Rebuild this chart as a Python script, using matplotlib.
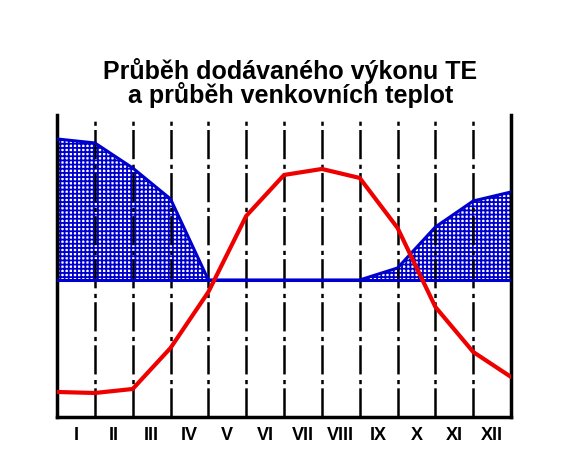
import numpy as np
import matplotlib
matplotlib.use("Agg")
import matplotlib.pyplot as plt

plt.rcParams['font.family'] = ['Liberation Sans', 'DejaVu Sans']
plt.rcParams['hatch.linewidth'] = 1.3
plt.rcParams['lines.scale_dashes'] = False

# month boundaries 0..12
months = ["I", "II", "III", "IV", "V", "VI", "VII", "VIII", "IX", "X", "XI", "XII"]
bounds = np.arange(13)
# supplied heat output (above zero line)
power = [14.1, 13.7, 11.2, 8.1, 0.0, 0.0, 0.0, 0.0, 0.0, 1.2, 5.3, 7.9, 8.8]
# outdoor temperature
temp = [-11.2, -11.3, -10.9, -6.8, -1.2, 6.4, 10.5, 11.1, 10.2, 5.2, -2.7, -7.2, -9.7]

fig = plt.figure(figsize=(5.69, 4.69), dpi=100)
ax = fig.add_axes([0.1002, 0.1109, 0.798, 0.644])

ax.fill_between(bounds, 0, power, facecolor='white', edgecolor='#0000cc',
                hatch='++++', linewidth=0, zorder=1)
ax.plot(bounds, power, color='#0000cc', lw=2.2, zorder=3)
ax.plot([0, 12], [0, 0], color='#0000cc', lw=2.2, zorder=3)

for b in bounds[1:-1]:
    ax.plot([b, b], [-13.7, 16.2], color='black', lw=1.8,
            linestyle=(0, (21, 3, 3, 4)), zorder=2)

ax.plot(bounds, temp, color='#ee0000', lw=3, zorder=4, solid_joinstyle='round')

ax.set_xlim(0, 12)
ax.set_ylim(-13.7, 16.5)
ax.set_xticks(np.arange(12) + 0.5)
ax.set_xticklabels(months, fontsize=13, fontweight='bold')
ax.tick_params(axis='x', length=0, pad=7)
ax.set_yticks([])
ax.spines['top'].set_visible(False)
for s in ['left', 'bottom', 'right']:
    ax.spines[s].set_linewidth(2.5)

fig.text(0.51, 0.823, "Průběh dodávaného výkonu TE\na průběh venkovních teplot",
         ha='center', va='center', fontsize=18, fontweight='bold', linespacing=0.92)

fig.savefig("out.png", dpi=100)
